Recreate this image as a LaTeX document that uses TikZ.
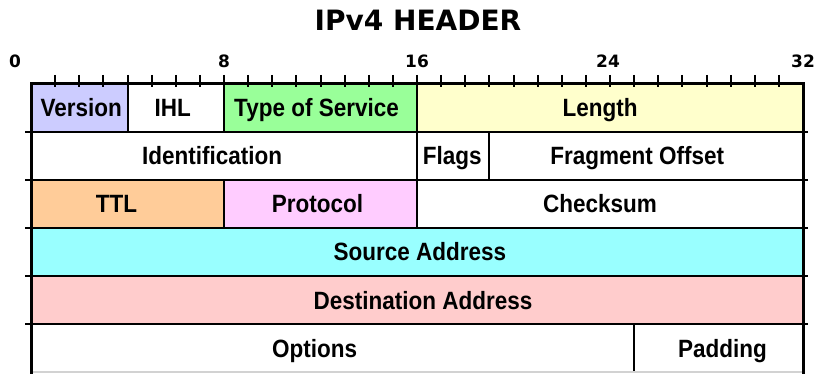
\documentclass[tikz,border=0pt]{standalone}
\usepackage{fontspec}
\usepackage{xcolor}
\usepackage{tikz}

\newfontfamily\fieldfont[FakeStretch=0.9]{Liberation Sans}
\newfontfamily\headfont{DejaVu Sans}

\definecolor{verblue}{HTML}{CCCCFF}
\definecolor{tosgreen}{HTML}{99FF99}
\definecolor{lenyellow}{HTML}{FFFFCC}
\definecolor{ttlorange}{HTML}{FFCC99}
\definecolor{protopink}{HTML}{FFCCFF}
\definecolor{srccyan}{HTML}{99FFFF}
\definecolor{dstpink}{HTML}{FFCCCC}

\begin{document}
\begin{tikzpicture}[x=1pt,y=-1pt,
		field/.style={draw=black, line width=2pt, inner sep=0pt, outer sep=0pt, minimum height=48pt},
		fieldtext/.style={inner sep=0pt, text height=18pt, text depth=0pt, font=\fieldfont\bfseries\fontsize{25}{30}\selectfont},
		scalenum/.style={inner sep=0pt, font=\headfont\bfseries\fontsize{17}{20}\selectfont},
		headtitle/.style={inner sep=0pt, font=\headfont\bfseries\fontsize{28}{32}\selectfont},
		frame/.style={line width=3pt},
		tick/.style={line width=2pt}]
	\useasboundingbox (0,0) rectangle (817,374);
	
	% title and bit numbers
	\node[headtitle] (title) at (418,20) {IPv4 HEADER};
	\foreach \b/\x in {0/15, 8/224, 16/417, 24/608, 32/803}{
		\node[scalenum] (n\b) at (\x,61) {\b};
	}
	
	% one box per field: name/row/first bit/last bit/colour/text shift/text
	\foreach \name/\row/\from/\to/\col/\dx/\txt in
	{ver/0/0/4/verblue/2pt/Version, ihl/0/4/8/white/-3pt/IHL,
		tos/0/8/16/tosgreen/-4pt/Type of Service, len/0/16/32/lenyellow/-10pt/Length,
		ident/1/0/16/white/-12pt/Identification, flags/1/16/19/white/-1pt/Flags,
		frag/1/19/32/white/-9pt/Fragment Offset,
		ttl/2/0/8/ttlorange/-11pt/TTL, proto/2/8/16/protopink/-3pt/Protocol,
		csum/2/16/32/white/-10pt/Checksum,
		src/3/0/32/srccyan/3pt/Source Address,
		dst/4/0/32/dstpink/6pt/Destination Address,
		opt/5/0/25/white/-18pt/Options, pad/5/25/32/white/4pt/Padding}{
		\node[field, fill=\col, minimum width={(\to-\from)*24.125pt}]
			(\name) at ({31+(\from+\to)/2*24.125},{84+\row*48+24}) {};
		\node[fieldtext] (\name-t) at ([xshift=\dx]\name.center) {\txt};
	}
	
	% bottom edge is cut off in the picture
	\draw[gray!35, line width=2pt] (opt.south west) -- (pad.south east);
	
	% row lines stick out a bit past the frame
	\foreach \r in {1,...,5}{
		\draw[line width=2pt] (25,{84+\r*48}) -- (808,{84+\r*48});
	}
	
	% outer frame
	\coordinate (bl) at (31,374);
	\coordinate (br) at (803,374);
	\draw[frame] (bl) -- (ver.north west) -- (len.north east) -- (br);
	
	% bit ticks on the top edge
	\foreach \b in {1,...,31}{
		\draw[tick] ({31+\b*24.125},75) -- ({31+\b*24.125},87);
	}
\end{tikzpicture}
\end{document}
